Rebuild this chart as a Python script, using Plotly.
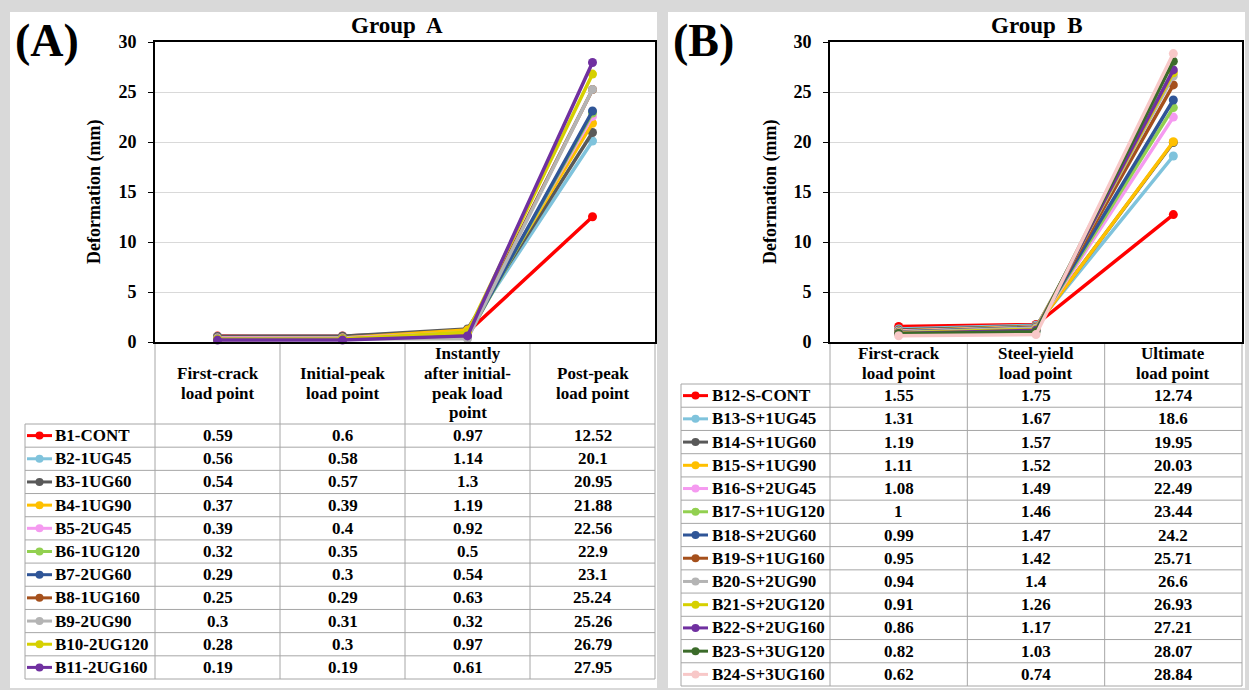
import plotly.graph_objects as go

W, H = 1249, 690

# ---------------- Data: Group A ----------------
headers_a = [["First-crack", "load point"],
             ["Initial-peak", "load point"],
             ["Instantly", "after initial-", "peak load", "point"],
             ["Post-peak", "load point"]]
names_a = ["B1-CONT", "B2-1UG45", "B3-1UG60", "B4-1UG90", "B5-2UG45", "B6-1UG120",
           "B7-2UG60", "B8-1UG160", "B9-2UG90", "B10-2UG120", "B11-2UG160"]
first_crack_a = [0.59, 0.56, 0.54, 0.37, 0.39, 0.32, 0.29, 0.25, 0.3, 0.28, 0.19]
initial_peak_a = [0.6, 0.58, 0.57, 0.39, 0.4, 0.35, 0.3, 0.29, 0.31, 0.3, 0.19]
after_peak_a = [0.97, 1.14, 1.3, 1.19, 0.92, 0.5, 0.54, 0.63, 0.32, 0.97, 0.61]
post_peak_a = [12.52, 20.1, 20.95, 21.88, 22.56, 22.9, 23.1, 25.24, 25.26, 26.79, 27.95]
colors_a = ["#ff0000", "#7fc3dc", "#595959", "#ffc000", "#f59af0", "#92d050",
            "#2f5597", "#a5501c", "#b4b4b4", "#d6d000", "#7030a0"]

# ---------------- Data: Group B ----------------
headers_b = [["First-crack", "load point"],
             ["Steel-yield", "load point"],
             ["Ultimate", "load point"]]
names_b = ["B12-S-CONT", "B13-S+1UG45", "B14-S+1UG60", "B15-S+1UG90", "B16-S+2UG45",
           "B17-S+1UG120", "B18-S+2UG60", "B19-S+1UG160", "B20-S+2UG90", "B21-S+2UG120",
           "B22-S+2UG160", "B23-S+3UG120", "B24-S+3UG160"]
first_crack_b = [1.55, 1.31, 1.19, 1.11, 1.08, 1, 0.99, 0.95, 0.94, 0.91, 0.86, 0.82, 0.62]
steel_yield_b = [1.75, 1.67, 1.57, 1.52, 1.49, 1.46, 1.47, 1.42, 1.4, 1.26, 1.17, 1.03, 0.74]
ultimate_b = [12.74, 18.6, 19.95, 20.03, 22.49, 23.44, 24.2, 25.71, 26.6, 26.93, 27.21, 28.07, 28.84]
colors_b = ["#ff0000", "#7fc3dc", "#595959", "#ffc000", "#f59af0", "#92d050",
            "#2f5597", "#a5501c", "#b4b4b4", "#d6d000", "#7030a0", "#3b6b2a", "#f8c8c8"]

cols_a = [first_crack_a, initial_peak_a, after_peak_a, post_peak_a]
cols_b = [first_crack_b, steel_yield_b, ultimate_b]

FONT = "Liberation Serif"
GRID_GRAY = "#a6a6a6"
TSIZE = 17


def fx(px):
    return px / W


def fy(py):
    return 1 - py / H


panel = dict(
    A=dict(label="(A)", label_x=47, title="Group  A", title_x=397, x0=155, x1=655,
           ytitle_x=95, tab_left=25, head_bot=424, tab_bot=679, key_x0=27, key_x1=52,
           text_x=53, names=names_a, cols=cols_a, colors=colors_a, headers=headers_a,
           xa="x", ya="y"),
    B=dict(label="(B)", label_x=703, title="Group  B", title_x=1037, x0=830, x1=1242,
           ytitle_x=771, tab_left=681, head_bot=384, tab_bot=686, key_x0=683, key_x1=708,
           text_x=710, names=names_b, cols=cols_b, colors=colors_b, headers=headers_b,
           xa="x2", ya="y2"),
)
PY0, PY1 = 42, 342  # plot top/bottom pixels

fig = go.Figure()
shapes = []
annotations = []

# panel backgrounds
shapes.append(dict(type="rect", xref="paper", yref="paper", x0=fx(10), x1=fx(657),
                   y0=fy(688), y1=fy(12), fillcolor="white", line=dict(width=0), layer="below"))
shapes.append(dict(type="rect", xref="paper", yref="paper", x0=fx(668), x1=fx(1245),
                   y0=fy(688), y1=fy(12), fillcolor="white", line=dict(width=0), layer="below"))

for key, p in panel.items():
    ncat = len(p["cols"])
    nser = len(p["names"])
    xs = list(range(ncat))
    for i in range(nser):
        ys = [p["cols"][c][i] for c in range(ncat)]
        fig.add_trace(go.Scatter(
            x=xs, y=ys, mode="lines+markers", name=p["names"][i],
            line=dict(color=p["colors"][i], width=3.5),
            marker=dict(color=p["colors"][i], size=9),
            xaxis=p["xa"], yaxis=p["ya"], cliponaxis=False, showlegend=False))

    # column boundaries (pixels)
    cw = (p["x1"] - p["x0"]) / ncat
    bounds = [p["x0"] + k * cw for k in range(ncat + 1)]
    hb, tb = p["head_bot"], p["tab_bot"]
    rh = (tb - hb) / nser
    line_style = dict(color=GRID_GRAY, width=1)
    # header vertical lines
    for b in bounds:
        shapes.append(dict(type="line", xref="paper", yref="paper", x0=fx(b), x1=fx(b),
                           y0=fy(PY1), y1=fy(tb), line=line_style, layer="below"))
    shapes.append(dict(type="line", xref="paper", yref="paper", x0=fx(p["tab_left"]),
                       x1=fx(p["tab_left"]), y0=fy(hb), y1=fy(tb), line=line_style))
    for r in range(nser + 1):
        yy = hb + r * rh
        shapes.append(dict(type="line", xref="paper", yref="paper", x0=fx(p["tab_left"]),
                           x1=fx(p["x1"]), y0=fy(yy), y1=fy(yy), line=line_style))
    # header text
    for c in range(ncat):
        lines = p["headers"][c]
        cx = (bounds[c] + bounds[c + 1]) / 2
        hc = (PY1 + hb) / 2
        for li, t in enumerate(lines):
            ly = hc + (li - (len(lines) - 1) / 2) * 20
            annotations.append(dict(xref="paper", yref="paper", x=fx(cx), y=fy(ly),
                                    text="<b>%s</b>" % t, showarrow=False,
                                    xanchor="center", yanchor="middle",
                                    font=dict(family=FONT, size=TSIZE, color="black")))
    # rows
    for r in range(nser):
        cy = hb + (r + 0.5) * rh
        col = p["colors"][r]
        shapes.append(dict(type="line", xref="paper", yref="paper", x0=fx(p["key_x0"]),
                           x1=fx(p["key_x1"]), y0=fy(cy), y1=fy(cy),
                           line=dict(color=col, width=3)))
        mx = (p["key_x0"] + p["key_x1"]) / 2
        shapes.append(dict(type="circle", xref="paper", yref="paper", x0=fx(mx - 4),
                           x1=fx(mx + 4), y0=fy(cy + 4), y1=fy(cy - 4),
                           fillcolor=col, line=dict(width=0)))
        annotations.append(dict(xref="paper", yref="paper", x=fx(p["text_x"]), y=fy(cy),
                                text="<b>%s</b>" % p["names"][r], showarrow=False,
                                xanchor="left", yanchor="middle",
                                font=dict(family=FONT, size=TSIZE, color="black")))
        for c in range(ncat):
            cx = (bounds[c] + bounds[c + 1]) / 2
            annotations.append(dict(xref="paper", yref="paper", x=fx(cx), y=fy(cy),
                                    text="<b>%s</b>" % p["cols"][c][r], showarrow=False,
                                    xanchor="center", yanchor="middle",
                                    font=dict(family=FONT, size=TSIZE, color="black")))
    # panel label, title, y title
    annotations.append(dict(xref="paper", yref="paper", x=fx(p["label_x"]), y=fy(41),
                            text="<b>%s</b>" % p["label"], showarrow=False,
                            xanchor="center", yanchor="middle",
                            font=dict(family=FONT, size=46, color="black")))
    annotations.append(dict(xref="paper", yref="paper", x=fx(p["title_x"]), y=fy(26),
                            text="<b>%s</b>" % p["title"], showarrow=False,
                            xanchor="center", yanchor="middle",
                            font=dict(family=FONT, size=23, color="black")))
    annotations.append(dict(xref="paper", yref="paper", x=fx(p["ytitle_x"]),
                            y=fy((PY0 + PY1) / 2), text="<b>Deformation (mm)</b>",
                            showarrow=False, textangle=-90, xanchor="center",
                            yanchor="middle", font=dict(family=FONT, size=18, color="black")))

yaxis_common = dict(range=[0, 30], dtick=5, showgrid=True, gridcolor="#d9d9d9", gridwidth=1,
                    showline=True, mirror=True, linecolor="black", linewidth=2,
                    ticks="outside", ticklen=5, tickcolor="black", zeroline=False,
                    tickfont=dict(family=FONT, size=18, color="black", weight="bold"),
                    ticklabelstandoff=8, domain=[fy(PY1), fy(PY0)], automargin=False)


def xaxis_common(p, n, anchor):
    return dict(range=[-0.5, n - 0.5], domain=[fx(p["x0"]), fx(p["x1"])],
                showticklabels=False, showgrid=False, zeroline=False, showline=True,
                mirror=True, linecolor="black", linewidth=2, ticks="", anchor=anchor,
                fixedrange=True, automargin=False)


fig.update_layout(
    width=W, height=H, margin=dict(l=0, r=0, t=0, b=0, pad=0, autoexpand=False),
    paper_bgcolor="#d9d9d9", plot_bgcolor="white",
    xaxis=xaxis_common(panel["A"], len(cols_a), "y"),
    yaxis=dict(yaxis_common, anchor="x"),
    xaxis2=xaxis_common(panel["B"], len(cols_b), "y2"),
    yaxis2=dict(yaxis_common, anchor="x2"),
    shapes=shapes, annotations=annotations, showlegend=False,
)

fig.write_html(
    "out.html",
    config={"displayModeBar": False},
    post_script="document.body.style.margin='0';document.body.style.overflow='hidden';",
)
